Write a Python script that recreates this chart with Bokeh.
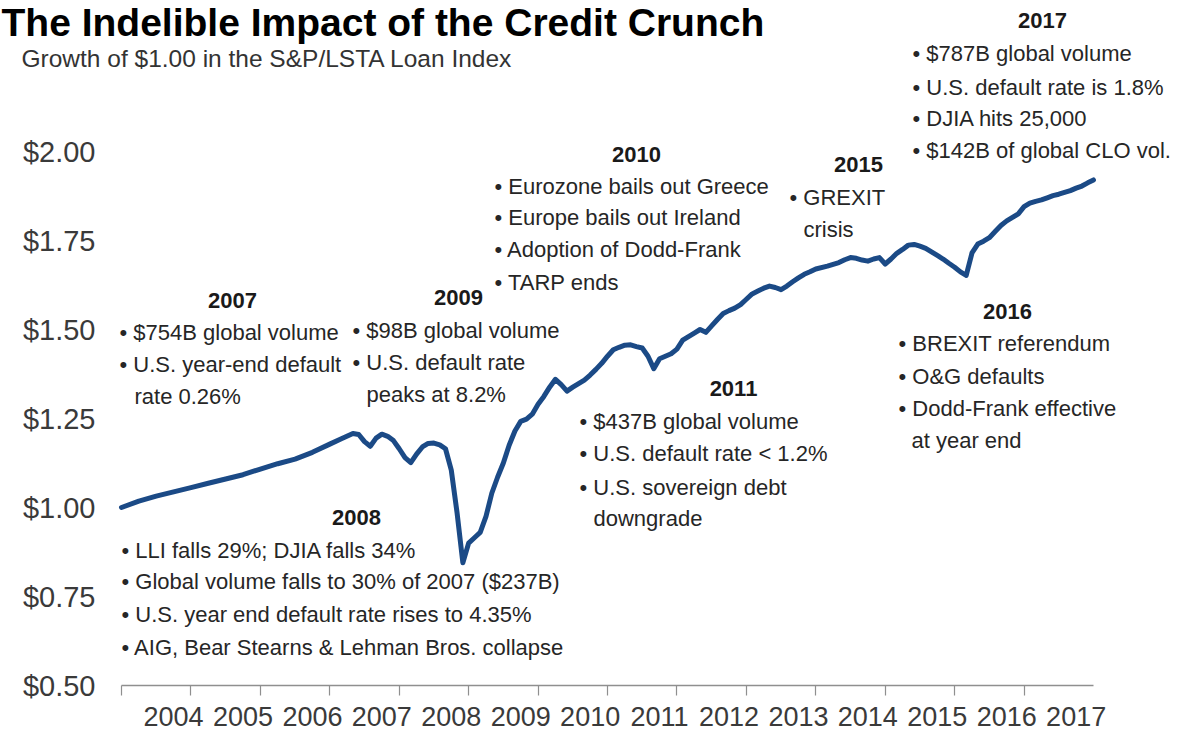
from bokeh.plotting import figure
from bokeh.models import FixedTicker, NumeralTickFormatter, Label, Range1d, CustomJSTickFormatter
from bokeh.embed import file_html
from bokeh.resources import INLINE

# ---- data (end-of-month values of the index) ----
months = [
    "2003-12", "2004-03", "2004-06", "2004-09", "2004-12", "2005-03", "2005-06", "2005-09",
    "2005-12", "2006-03", "2006-06", "2006-09", "2006-12", "2007-02", "2007-04", "2007-05",
    "2007-06", "2007-07", "2007-08", "2007-09", "2007-10", "2007-11", "2007-12", "2008-01",
    "2008-02", "2008-03", "2008-04", "2008-05", "2008-06", "2008-07", "2008-08", "2008-09",
    "2008-10", "2008-11", "2008-12", "2009-01", "2009-02", "2009-03", "2009-04", "2009-05",
    "2009-06", "2009-07", "2009-08", "2009-09", "2009-10", "2009-11", "2009-12", "2010-01",
    "2010-02", "2010-03", "2010-04", "2010-05", "2010-06", "2010-07", "2010-08", "2010-09",
    "2010-10", "2010-11", "2010-12", "2011-01", "2011-02", "2011-03", "2011-04", "2011-05",
    "2011-06", "2011-07", "2011-08", "2011-09", "2011-10", "2011-11", "2011-12", "2012-01",
    "2012-02", "2012-03", "2012-04", "2012-05", "2012-06", "2012-07", "2012-08", "2012-09",
    "2012-10", "2012-11", "2012-12", "2013-01", "2013-02", "2013-03", "2013-04", "2013-05",
    "2013-06", "2013-07", "2013-08", "2013-09", "2013-10", "2013-11", "2013-12", "2014-02",
    "2014-04", "2014-05", "2014-06", "2014-07", "2014-08", "2014-09", "2014-10", "2014-11",
    "2014-12", "2015-01", "2015-02", "2015-03", "2015-04", "2015-05", "2015-06", "2015-07",
    "2015-08", "2015-09", "2015-10", "2015-11", "2015-12", "2016-01", "2016-02", "2016-03",
    "2016-04", "2016-05", "2016-06", "2016-07", "2016-08", "2016-09", "2016-10", "2016-11",
    "2016-12", "2017-01", "2017-02", "2017-03", "2017-04", "2017-05", "2017-06", "2017-07",
    "2017-08", "2017-09", "2017-10", "2017-11", "2017-12",
]
index_values = [
    1.000, 1.018, 1.032, 1.044, 1.056, 1.068, 1.080, 1.092,
    1.108, 1.123, 1.136, 1.155, 1.178, 1.193, 1.208, 1.205,
    1.185, 1.172, 1.195, 1.206, 1.200, 1.188, 1.165, 1.140,
    1.126, 1.150, 1.170, 1.180, 1.181, 1.176, 1.165, 1.105,
    0.985, 0.845, 0.900, 0.915, 0.930, 0.975, 1.040, 1.085,
    1.125, 1.175, 1.215, 1.242, 1.248, 1.262, 1.290, 1.312,
    1.338, 1.360, 1.345, 1.327, 1.338, 1.348, 1.358, 1.372,
    1.388, 1.405, 1.425, 1.443, 1.450, 1.456, 1.457, 1.452,
    1.448, 1.425, 1.390, 1.418, 1.425, 1.432, 1.445, 1.470,
    1.480, 1.490, 1.500, 1.492, 1.510, 1.528, 1.545, 1.553,
    1.560, 1.570, 1.585, 1.600, 1.608, 1.616, 1.622, 1.618,
    1.612, 1.622, 1.634, 1.645, 1.655, 1.662, 1.670, 1.678,
    1.688, 1.696, 1.702, 1.700, 1.695, 1.692, 1.698, 1.702,
    1.684, 1.698, 1.714, 1.725, 1.737, 1.739, 1.734, 1.728,
    1.718, 1.708, 1.698, 1.686, 1.675, 1.662, 1.652, 1.715,
    1.740, 1.748, 1.758, 1.775, 1.792, 1.805, 1.815, 1.825,
    1.845, 1.855, 1.860, 1.864, 1.870, 1.876, 1.880, 1.885,
    1.890, 1.897, 1.903, 1.912, 1.920,
]
years = list(range(2004, 2018))
y_ticks = [0.50, 0.75, 1.00, 1.25, 1.50, 1.75, 2.00]

title_text = "The Indelible Impact of the Credit Crunch"
subtitle_text = "Growth of $1.00 in the S&P/LSTA Loan Index"

# annotation blocks: (header, header centre px, [(text, left px, centre y px), ...])
notes = [
    ("2007", (232, 300), [("\u2022 $754B global volume", 119, 332),
                          ("\u2022 U.S. year-end default", 119, 364),
                          ("rate 0.26%", 134, 396)]),
    ("2009", (458, 297), [("\u2022 $98B global volume", 352, 330),
                          ("\u2022 U.S. default rate", 352, 362),
                          ("peaks at 8.2%", 366, 394)]),
    ("2010", (636, 154), [("\u2022 Eurozone bails out Greece", 494, 186),
                          ("\u2022 Europe bails out Ireland", 494, 217),
                          ("\u2022 Adoption of Dodd-Frank", 494, 249),
                          ("\u2022 TARP ends", 494, 282)]),
    ("2015", (858, 164), [("\u2022 GREXIT", 789, 197),
                          ("crisis", 803, 229)]),
    ("2017", (1042, 20), [("\u2022 $787B global volume", 912, 53),
                          ("\u2022 U.S. default rate is 1.8%", 912, 87),
                          ("\u2022 DJIA hits 25,000", 912, 118),
                          ("\u2022 $142B of global CLO vol.", 912, 150)]),
    ("2016", (1007, 311), [("\u2022 BREXIT referendum", 898, 343),
                           ("\u2022 O&G defaults", 898, 376),
                           ("\u2022 Dodd-Frank effective", 898, 408),
                           ("at year end", 911, 440)]),
    ("2011", (733, 388), [("\u2022 $437B global volume", 579, 421),
                          ("\u2022 U.S. default rate < 1.2%", 579, 453),
                          ("\u2022 U.S. sovereign debt", 579, 487),
                          ("downgrade", 593, 518)]),
    ("2008", (356, 517), [("\u2022 LLI falls 29%; DJIA falls 34%", 121, 550),
                          ("\u2022 Global volume falls to 30% of 2007 ($237B)", 121, 581),
                          ("\u2022 U.S. year end default rate rises to 4.35%", 121, 614),
                          ("\u2022 AIG, Bear Stearns & Lehman Bros. collapse", 121, 647)]),
]

# ---- layout: the frame covers the whole canvas, axes are pinned inside it ----
W, H = 1183, 737
AX_L, AX_R, AX_B = 121, 1093, 685          # px of the axis box
X0, X1 = 2004.0, 2018.0
Y0, PPD = 0.5, 356.0                        # $0.50 at the axis line, px per $

def px2x(px):
    return X0 + (px - AX_L) * (X1 - X0) / (AX_R - AX_L)

def px2y(py):
    return Y0 + (AX_B - py) / PPD

FONT = "Liberation Sans"
TXT = "#262626"

xs = [int(m[:4]) + int(m[5:]) / 12.0 for m in months]

p = figure(width=W, height=H,
           x_range=Range1d(px2x(0), px2x(W)), y_range=Range1d(px2y(H), px2y(0)),
           output_backend="svg", toolbar_location=None,
           min_border_left=0, min_border_right=0, min_border_top=0, min_border_bottom=0)
p.outline_line_color = None
p.background_fill_color = "white"
p.border_fill_color = "white"
p.xgrid.grid_line_color = None
p.ygrid.grid_line_color = None

p.line(xs, index_values, line_color="#1b4a86", line_width=5, line_join="round", line_cap="round")

# x axis: tick marks at year starts (minor), labels placed within each year
xa = p.xaxis[0]
xa.fixed_location = Y0
xa.bounds = (X0, X1)
xa.ticker = FixedTicker(ticks=[y + 0.75 for y in years], minor_ticks=years)
xa.formatter = CustomJSTickFormatter(code="return String(Math.floor(tick));")
xa.axis_line_color = "#8f8f8f"
xa.axis_line_width = 1.5
xa.major_tick_line_color = None
xa.major_tick_out = 0
xa.major_tick_in = 0
xa.minor_tick_line_color = "#8f8f8f"
xa.minor_tick_line_width = 1.2
xa.minor_tick_out = 10
xa.minor_tick_in = 0
xa.major_label_standoff = 11
xa.major_label_text_font = FONT
xa.major_label_text_font_size = "27px"
xa.major_label_text_color = "#3a3a3a"

ya = p.yaxis[0]
ya.fixed_location = X0
ya.ticker = FixedTicker(ticks=y_ticks)
ya.formatter = NumeralTickFormatter(format="$0.00")
ya.axis_line_color = None
ya.major_tick_line_color = None
ya.minor_tick_line_color = None
ya.major_tick_out = 0
ya.major_tick_in = 0
ya.major_label_standoff = 26
ya.major_label_text_font = FONT
ya.major_label_text_font_size = "29px"
ya.major_label_text_color = "#3a3a3a"

# title & subtitle
p.add_layout(Label(x=px2x(1), y=px2y(22), text=title_text, text_font=FONT,
                   text_font_style="bold", text_font_size="39px", text_color="#000000",
                   text_baseline="middle", text_align="left"))
p.add_layout(Label(x=px2x(21), y=px2y(58), text=subtitle_text, text_font=FONT,
                   text_font_size="24.5px", text_color="#333333",
                   text_baseline="middle", text_align="left"))

for head, (hx, hy), lines in notes:
    p.add_layout(Label(x=px2x(hx), y=px2y(hy), text=head, text_font=FONT,
                       text_font_style="bold", text_font_size="22px", text_color="#1a1a1a",
                       text_baseline="middle", text_align="center"))
    for t, lx, ly in lines:
        p.add_layout(Label(x=px2x(lx), y=px2y(ly), text=t, text_font=FONT,
                           text_font_size="22px", text_color=TXT,
                           text_baseline="middle", text_align="left"))

open("out.html", "w").write(file_html(p, INLINE))
